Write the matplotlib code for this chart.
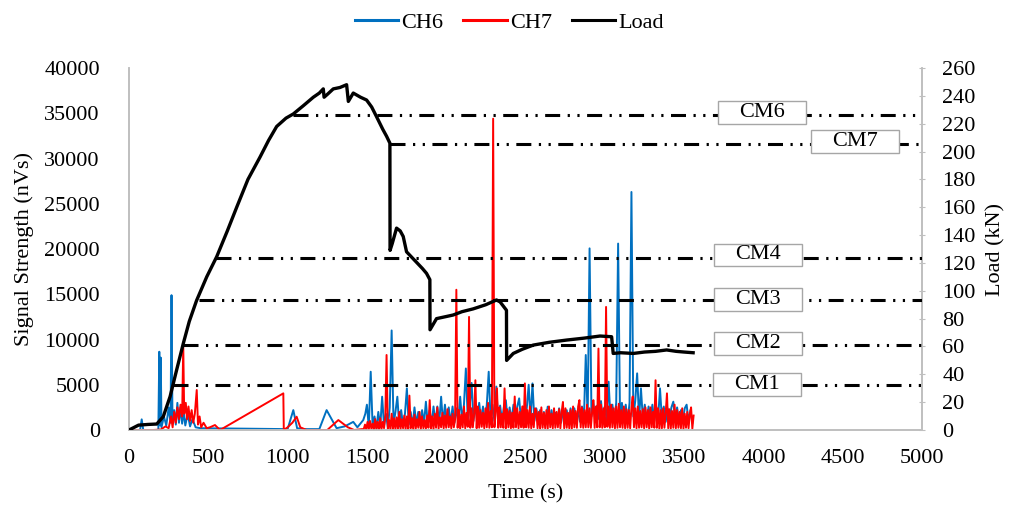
import matplotlib
matplotlib.use("Agg")
import matplotlib.pyplot as plt
from matplotlib.lines import Line2D
from matplotlib.patches import Rectangle

plt.rcParams['font.family'] = ['Liberation Serif', 'DejaVu Serif']
plt.rcParams['lines.scale_dashes'] = False

# ---------------- data ----------------
load_t = [0, 60, 120, 175, 216, 259, 300, 342, 380, 426, 490, 553, 620, 679, 750, 826, 880,
          931, 990, 1036, 1100, 1162, 1200, 1225, 1230, 1250, 1288, 1330, 1372, 1383, 1414,
          1460, 1498, 1530, 1561, 1600, 1624, 1645, 1646, 1660, 1687, 1710, 1729, 1750, 1800,
          1850, 1876, 1897, 1898, 1939, 2000, 2044, 2100, 2170, 2250, 2317, 2340, 2380, 2381,
          2423, 2480, 2549, 2650, 2759, 2870, 2970, 3043, 3053, 3100, 3180, 3250, 3320, 3390,
          3450, 3500, 3557]
load_v = [0, 3.5, 4, 4.3, 9.6, 24, 43, 62, 78, 93, 110, 124.5, 143, 160, 180, 196, 208,
          218, 224, 227, 233, 239, 242, 245, 239, 241, 245, 246, 248, 236, 242,
          239, 237, 232, 225, 216, 211, 206, 129, 134, 145, 143, 139, 128, 122,
          116, 112.5, 108, 72, 80, 81.5, 82.6, 85, 87, 90, 93.4, 92, 86, 50,
          55, 58, 61, 63, 64.6, 66, 67.5, 67, 55, 55.5, 55, 56, 56.5, 57.5,
          56.5, 56, 55.5]

# CH6 before the dense part
ch6_early_t = [0, 70, 80, 90, 185, 191, 196, 200, 205, 220, 235, 250, 262, 268, 274, 285, 295,
               305, 315, 325, 335, 345, 355, 370, 385, 400, 420, 450, 1000, 1036, 1060, 1100,
               1200, 1246, 1309, 1360, 1414, 1440, 1477, 1490]
ch6_early_v = [0, 0, 1180, 0, 0, 8650, 500, 8000, 300, 1500, 500, 2500, 800, 14900, 1000, 2200, 600,
               3000, 800, 2500, 700, 2000, 500, 1800, 400, 1200, 300, 200, 100, 2200, 200, 100,
               100, 2200, 200, 400, 900, 300, 1100, 1800]
# CH6 dense part
ch6_dense_t = [1500, 1512, 1524, 1536, 1548, 1560, 1572, 1584, 1596, 1608, 1620, 1632,
               1644, 1656, 1668, 1680, 1692, 1704, 1716, 1728, 1740, 1752, 1764, 1776,
               1788, 1800, 1812, 1824, 1836, 1848, 1860, 1872, 1884, 1896, 1908, 1920,
               1932, 1944, 1956, 1968, 1980, 1992, 2004, 2016, 2028, 2040, 2052, 2064,
               2076, 2088, 2100, 2112, 2124, 2136, 2148, 2160, 2172, 2184, 2196, 2208,
               2220, 2232, 2244, 2256, 2268, 2280, 2292, 2304, 2316, 2328, 2340, 2352,
               2364, 2376, 2388, 2400, 2412, 2424, 2436, 2448, 2460, 2472, 2484, 2496,
               2508, 2520, 2532, 2544, 2556, 2568, 2580, 2592, 2604, 2616, 2628, 2640,
               2652, 2664, 2676, 2688, 2700, 2712, 2724, 2736, 2748, 2760, 2772, 2784,
               2796, 2808, 2820, 2832, 2844, 2856, 2868, 2880, 2892, 2904, 2916, 2928,
               2940, 2952, 2964, 2976, 2988, 3000, 3012, 3024, 3036, 3048, 3060, 3072,
               3084, 3096, 3108, 3120, 3132, 3144, 3156, 3168, 3180, 3192, 3204, 3216,
               3228, 3240, 3252, 3264, 3276, 3288, 3300, 3312, 3324, 3336, 3348, 3360,
               3372, 3384, 3396, 3408, 3420, 3432, 3444, 3456, 3468, 3480, 3492, 3504,
               3516, 3528, 3540, 3552]
ch6_dense_v = [2800, 300, 6440, 400, 1500, 200, 2000, 300, 3680, 500, 1800, 300,
               2500, 11000, 600, 2000, 3680, 400, 2200, 500, 1800, 4600, 600, 2000,
               400, 2500, 600, 2000, 500, 2200, 700, 3130, 600, 2200, 500, 2600,
               700, 2600, 800, 3680, 700, 2800, 800, 2500, 700, 2600, 800, 2400,
               900, 3680, 1000, 2800, 6800, 1100, 2600, 5200, 1000, 2800, 900, 3000,
               1000, 2600, 900, 2800, 6440, 1000, 2800, 1000, 4800, 900, 2700, 1000,
               2600, 3300, 900, 2500, 1000, 2800, 900, 2600, 3500, 1000, 2600, 1000,
               2400, 5000, 1100, 5150, 1000, 2400, 900, 2200, 1000, 2000, 800, 2580,
               900, 2200, 800, 1900, 900, 2400, 800, 2000, 900, 2200, 800, 2400,
               900, 2400, 1000, 2000, 900, 2600, 1000, 8290, 1200, 20070, 1500, 3000,
               1100, 2700, 1200, 3200, 1000, 2600, 1100, 5340, 1200, 2800, 1000, 3000,
               20600, 1400, 3000, 1100, 2800, 1000, 3000, 26300, 1500, 3200, 6260, 1200,
               4600, 1200, 2800, 1000, 2600, 1100, 2800, 1000, 2600, 1200, 4600, 1200,
               2600, 900, 2400, 1000, 2500, 3130, 1100, 2500, 900, 2200, 1000, 2400,
               2800, 900, 2200, 800]

# CH7 before the dense part
ch7_early_t = [0, 150, 200, 230, 250, 265, 275, 285, 295, 305, 315, 325, 335, 342, 348, 358, 366,
               375, 385, 395, 405, 415, 427, 435, 445, 455, 470, 490, 510, 542, 574, 973, 976,
               1000, 1030, 1057, 1080, 1120, 1250, 1320, 1380, 1420, 1470]
ch7_early_v = [0, 0, 50, 400, 200, 1500, 300, 2000, 800, 2500, 1200, 2800, 1500, 9400, 1800, 3000,
               1200, 2600, 1000, 2200, 800, 1800, 4420, 600, 1500, 300, 800, 200, 300, 550, 0,
               4050, 0, 300, 800, 1470, 300, 0, 0, 1100, 300, 0, 100]
# CH7 dense part
ch7_dense_t = [1480, 1488, 1496, 1504, 1512, 1520, 1528, 1536, 1544, 1552, 1560, 1568, 1576,
               1584, 1592, 1600, 1608, 1616, 1624, 1632, 1640, 1648, 1656, 1664, 1672, 1680,
               1688, 1696, 1704, 1712, 1720, 1728, 1736, 1744, 1752, 1760, 1768, 1776, 1784,
               1792, 1800, 1808, 1816, 1824, 1832, 1840, 1848, 1856, 1864, 1872, 1880, 1888,
               1896, 1904, 1912, 1920, 1928, 1936, 1944, 1952, 1960, 1968, 1976, 1984, 1992,
               2000, 2008, 2016, 2024, 2032, 2040, 2048, 2056, 2064, 2072, 2080, 2088, 2096,
               2104, 2112, 2120, 2128, 2136, 2144, 2152, 2160, 2168, 2176, 2184, 2192, 2200,
               2208, 2216, 2224, 2232, 2240, 2248, 2256, 2264, 2272, 2280, 2288, 2296, 2304,
               2312, 2320, 2328, 2336, 2344, 2352, 2360, 2368, 2376, 2384, 2392, 2400, 2408,
               2416, 2424, 2432, 2440, 2448, 2456, 2464, 2472, 2480, 2488, 2496, 2504, 2512,
               2520, 2528, 2536, 2544, 2552, 2560, 2568, 2576, 2584, 2592, 2600, 2608, 2616,
               2624, 2632, 2640, 2648, 2656, 2664, 2672, 2680, 2688, 2696, 2704, 2712, 2720,
               2728, 2736, 2744, 2752, 2760, 2768, 2776, 2784, 2792, 2800, 2808, 2816, 2824,
               2832, 2840, 2848, 2856, 2864, 2872, 2880, 2888, 2896, 2904, 2912, 2920, 2928,
               2936, 2944, 2952, 2960, 2968, 2976, 2984, 2992, 3000, 3008, 3016, 3024, 3032,
               3040, 3048, 3056, 3064, 3072, 3080, 3088, 3096, 3104, 3112, 3120, 3128, 3136,
               3144, 3152, 3160, 3168, 3176, 3184, 3192, 3200, 3208, 3216, 3224, 3232, 3240,
               3248, 3256, 3264, 3272, 3280, 3288, 3296, 3304, 3312, 3320, 3328, 3336, 3344,
               3352, 3360, 3368, 3376, 3384, 3392, 3400, 3408, 3416, 3424, 3432, 3440, 3448,
               3456, 3464, 3472, 3480, 3488, 3496, 3504, 3512, 3520, 3528, 3536, 3544, 3552,
               3560]
ch7_dense_v = [100, 600, 50, 900, 80, 1000, 150, 700, 50, 1200, 100, 900, 60,
               1300, 100, 900, 200, 1500, 8290, 150, 1100, 80, 1800, 100, 1300, 60,
               1400, 150, 2000, 100, 1200, 200, 1600, 80, 1500, 100, 3800, 200, 1300,
               100, 1700, 150, 1200, 250, 2000, 100, 1500, 200, 1100, 150, 1600, 250,
               3300, 200, 1500, 100, 1800, 250, 2500, 150, 1400, 300, 1900, 200, 1600,
               250, 2300, 300, 1500, 200, 1800, 300, 1200, 15500, 250, 2200, 150, 1700,
               300, 2600, 200, 1900, 350, 12500, 250, 2400, 300, 1800, 5500, 200, 2600,
               250, 2200, 350, 1900, 200, 2400, 300, 3000, 250, 2100, 300, 34400, 300,
               2000, 4600, 250, 2500, 300, 1800, 250, 4600, 200, 2300, 300, 2100, 200,
               1900, 250, 3700, 300, 2400, 200, 2000, 300, 2600, 250, 5150, 300, 2200,
               250, 2600, 200, 1800, 300, 2400, 2200, 200, 2000, 150, 2500, 250, 1900,
               200, 2200, 150, 2600, 300, 1800, 200, 2400, 250, 2000, 300, 2300, 200,
               2000, 3100, 200, 2400, 250, 1900, 200, 2200, 150, 2600, 300, 2100, 250,
               2600, 3300, 300, 2500, 250, 2200, 300, 2800, 300, 2400, 250, 2000, 3300,
               250, 2600, 300, 9000, 300, 2800, 250, 2400, 300, 13600, 350, 2600, 250,
               2800, 300, 2400, 200, 2600, 250, 2900, 300, 2200, 250, 2600, 200, 2300,
               250, 2200, 200, 2500, 3700, 300, 2400, 200, 2600, 250, 2100, 300, 2300,
               200, 2500, 300, 2200, 150, 2500, 300, 2000, 250, 5500, 250, 2400, 150,
               2200, 200, 2400, 250, 1900, 4050, 200, 2300, 150, 2100, 250, 2800, 200,
               2200, 250, 2000, 200, 2400, 150, 1800, 250, 2000, 200, 1700, 2500, 150,
               1600]

cm_names = ['CM1', 'CM2', 'CM3', 'CM4', 'CM6', 'CM7']
cm_levels = [32.3, 61.0, 93.4, 123.5, 226.0, 205.4]
cm_start = [277, 340, 441, 549, 1034, 1646]

x_ticks = [0, 500, 1000, 1500, 2000, 2500, 3000, 3500, 4000, 4500, 5000]
y1_ticks = [0, 5000, 10000, 15000, 20000, 25000, 30000, 35000, 40000]
y2_ticks = [0, 20, 40, 60, 80, 100, 120, 140, 160, 180, 200, 220, 240, 260]

assert len(load_t) == len(load_v)
assert len(ch6_early_t) == len(ch6_early_v)
assert len(ch6_dense_t) == len(ch6_dense_v)
assert len(ch7_early_t) == len(ch7_early_v)
assert len(ch7_dense_t) == len(ch7_dense_v)

ch6_t = ch6_early_t + ch6_dense_t
ch6_v = ch6_early_v + ch6_dense_v
ch7_t = ch7_early_t + ch7_dense_t
ch7_v = ch7_early_v + ch7_dense_v

# ---------------- layout/style ----------------
cm_box_x = [3960, 3966, 3966, 3966, 3991, 4578]
cm_box_dy = [0.3, 0.8, 0.0, 2.2, 1.7, 1.5]

blue = '#0070C0'
red = '#FF0000'
grey = '#BFBFBF'
fs = 16

fig = plt.figure(figsize=(10.19, 5.14), dpi=100)
ax1 = fig.add_axes([0.1266, 0.1634, 0.7782, 0.7043])
ax2 = ax1.twinx()

ax1.plot(ch6_t, ch6_v, color=blue, lw=1.4, zorder=2)
ax1.plot(ch7_t, ch7_v, color=red, lw=1.4, zorder=3)

ax1.set_xlim(0, 5000)
ax1.set_ylim(0, 40000)
ax2.set_ylim(0, 260)
ax1.set_xticks(x_ticks)
ax1.set_xticklabels([str(v) for v in x_ticks], fontsize=fs)
ax1.set_yticks(y1_ticks)
ax1.set_yticklabels([str(v) for v in y1_ticks], fontsize=fs)
ax2.set_yticks(y2_ticks)
ax2.set_yticklabels([str(v) for v in y2_ticks], fontsize=fs)

ax1.tick_params(axis='x', length=0, pad=14)
ax1.tick_params(axis='y', length=0, pad=21)
ax2.tick_params(axis='y', direction='inout', length=5, width=0.8, color=grey, pad=12)

for ax in (ax1, ax2):
    ax.spines['top'].set_visible(False)
    for s in ('left', 'right', 'bottom'):
        ax.spines[s].set_color(grey)
        ax.spines[s].set_linewidth(1.2)
ax2.patch.set_visible(False)

ax1.set_ylabel('Signal Strength (nVs)', fontsize=fs, labelpad=7)
ax2.set_ylabel('Load (kN)', fontsize=fs, labelpad=8)
ax1.set_xlabel('Time (s)', fontsize=fs, labelpad=11)

# CM threshold lines
dash = (10.8, 5.4, 1.6, 5.4, 1.6, 5.4)
for name, lvl, st, bx, dy in zip(cm_names, cm_levels, cm_start, cm_box_x, cm_box_dy):
    ln, = ax2.plot([st, 5000], [lvl, lvl], color='black', lw=2.2, zorder=3)
    ln.set_dashes(dash)
    w, h = 555, 16.5
    ax2.add_patch(Rectangle((bx - w / 2, lvl + dy - h / 2), w, h, facecolor='white',
                            edgecolor='#A6A6A6', lw=1.0, zorder=5))
    ax2.text(bx, lvl + dy, name, fontsize=fs, ha='center', va='center', zorder=6)

ax2.plot(load_t, load_v, color='black', lw=2.4, zorder=4, solid_joinstyle='round')

handles = [Line2D([], [], color=blue, lw=2.2), Line2D([], [], color=red, lw=2.2),
           Line2D([], [], color='black', lw=2.2)]
fig.legend(handles, ['CH6', 'CH7', 'Load'], loc='upper center', bbox_to_anchor=(0.5, 1.015),
           ncol=3, frameon=False, fontsize=fs, handlelength=1.95, handletextpad=0.15,
           columnspacing=0.9)

fig.savefig('out.png', dpi=100)
